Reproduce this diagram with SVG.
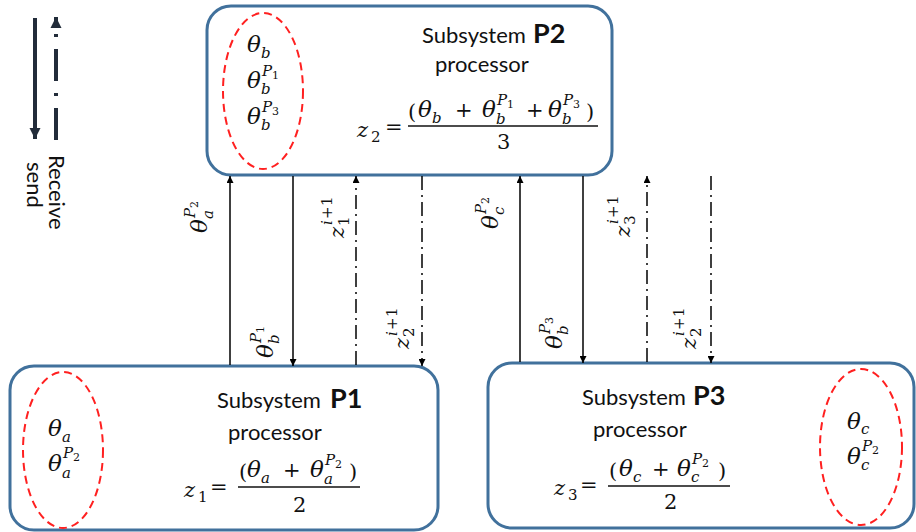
<svg xmlns="http://www.w3.org/2000/svg" width="916" height="532" viewBox="0 0 916 532">
<defs>
<style>
.box{fill:#fff;stroke:#41719c;stroke-width:3}
.ell{fill:none;stroke:#ff2020;stroke-width:2;stroke-dasharray:8 5}
.t{font-family:Lato,"Open Sans",sans-serif;font-size:22px;fill:#111}
.tb{font-weight:bold;font-size:27px}
.m{font-family:"DejaVu Serif",serif;font-style:italic;font-size:21px;fill:#111}
.th{font-size:23px}
.mu{font-style:normal}
.s{font-size:15px}
.ss{font-size:11px}
.c{stroke:#000;stroke-width:1.5;fill:none}
.dd{stroke-dasharray:14 5 2 5}
.fl{stroke:#111;stroke-width:1.3}
</style>
<marker id="ah" viewBox="0 0 10 10" refX="10" refY="5" markerUnits="userSpaceOnUse" markerWidth="9" markerHeight="7" orient="auto"><path d="M0,0 L10,5 L0,10 z" fill="#000"/></marker>
<marker id="big" viewBox="0 0 10 10" refX="10" refY="5" markerUnits="userSpaceOnUse" markerWidth="11" markerHeight="12" orient="auto"><path d="M0,0 L10,5 L0,10 z" fill="#222c3a"/></marker>
</defs>

<g id="legend">
<line x1="35" y1="18" x2="35" y2="139" stroke="#222c3a" stroke-width="4" marker-end="url(#big)"/>
<line x1="56" y1="140" x2="56" y2="17" stroke="#222c3a" stroke-width="4" stroke-dasharray="32 12 3 12" marker-end="url(#big)"/>
<text class="t" transform="translate(49,155) rotate(90)">Receive</text>
<text class="t" transform="translate(27,162) rotate(90)">send</text>
</g>

<g id="P2">
<rect class="box" x="207" y="6" width="405" height="169" rx="24"/>
<ellipse class="ell" cx="263" cy="91" rx="40" ry="78"/>
<text class="t" x="422" y="43">Subsystem<tspan class="tb" x="533">P2</tspan></text>
<text class="t" x="435" y="72">processor</text>
<text class="m"><tspan class="th" x="247" y="52">θ</tspan><tspan class="s" x="261" y="58">b</tspan></text>
<text class="m"><tspan class="th" x="247" y="88">θ</tspan><tspan class="s" x="262" y="76">P</tspan><tspan class="ss mu" x="272" y="79">1</tspan><tspan class="s" x="261" y="94">b</tspan></text>
<text class="m"><tspan class="th" x="247" y="124">θ</tspan><tspan class="s" x="262" y="112">P</tspan><tspan class="ss mu" x="272" y="115">3</tspan><tspan class="s" x="261" y="130">b</tspan></text>
<text class="m"><tspan x="357" y="137">z</tspan><tspan class="s mu" x="371" y="142">2</tspan><tspan class="mu" x="385" y="134">=</tspan></text>
<line class="fl" x1="408" y1="126" x2="598" y2="126"/>
<text class="m"><tspan class="mu" x="408" y="119">(</tspan><tspan class="th" x="418" y="117">θ</tspan><tspan class="s" x="432" y="123">b</tspan><tspan class="mu" x="455" y="117">+</tspan><tspan class="th" x="482" y="117">θ</tspan><tspan class="s" x="497" y="105">P</tspan><tspan class="ss mu" x="507" y="108">1</tspan><tspan class="s" x="496" y="124">b</tspan><tspan class="mu" x="526" y="117">+</tspan><tspan class="th" x="548" y="117">θ</tspan><tspan class="s" x="563" y="105">P</tspan><tspan class="ss mu" x="573" y="108">3</tspan><tspan class="s" x="562" y="124">b</tspan><tspan class="mu" x="586" y="119">)</tspan></text>
<text class="m mu" x="497" y="149">3</text>
</g>

<g id="P1">
<rect class="box" x="10" y="366" width="428" height="164" rx="24"/>
<ellipse class="ell" cx="63" cy="450" rx="40" ry="78"/>
<text class="t" x="217" y="408">Subsystem<tspan class="tb" x="330">P1</tspan></text>
<text class="t" x="228" y="440">processor</text>
<text class="m"><tspan class="th" x="48" y="436">θ</tspan><tspan class="s" x="62" y="442">a</tspan></text>
<text class="m"><tspan class="th" x="48" y="471">θ</tspan><tspan class="s" x="63" y="458">P</tspan><tspan class="ss mu" x="73" y="461">2</tspan><tspan class="s" x="62" y="478">a</tspan></text>
<text class="m"><tspan x="184" y="497">z</tspan><tspan class="s mu" x="198" y="502">1</tspan><tspan class="mu" x="210" y="494">=</tspan></text>
<line class="fl" x1="238" y1="487" x2="360" y2="487"/>
<text class="m"><tspan class="mu" x="239" y="479">(</tspan><tspan class="th" x="247" y="477">θ</tspan><tspan class="s" x="261" y="483">a</tspan><tspan class="mu" x="283" y="477">+</tspan><tspan class="th" x="310" y="477">θ</tspan><tspan class="s" x="325" y="465">P</tspan><tspan class="ss mu" x="335" y="468">2</tspan><tspan class="s" x="324" y="484">a</tspan><tspan class="mu" x="349" y="479">)</tspan></text>
<text class="m mu" x="293" y="512">2</text>
</g>

<g id="P3">
<rect class="box" x="488" y="363" width="426" height="165" rx="24"/>
<ellipse class="ell" cx="861" cy="447" rx="41" ry="78"/>
<text class="t" x="582" y="405">Subsystem<tspan class="tb" x="693">P3</tspan></text>
<text class="t" x="593" y="437">processor</text>
<text class="m"><tspan class="th" x="847" y="429">θ</tspan><tspan class="s" x="861" y="434">c</tspan></text>
<text class="m"><tspan class="th" x="847" y="464">θ</tspan><tspan class="s" x="862" y="451">P</tspan><tspan class="ss mu" x="872" y="454">2</tspan><tspan class="s" x="861" y="470">c</tspan></text>
<text class="m"><tspan x="554" y="495">z</tspan><tspan class="s mu" x="568" y="500">3</tspan><tspan class="mu" x="580" y="492">=</tspan></text>
<line class="fl" x1="608" y1="486" x2="730" y2="486"/>
<text class="m"><tspan class="mu" x="609" y="478">(</tspan><tspan class="th" x="619" y="476">θ</tspan><tspan class="s" x="633" y="482">c</tspan><tspan class="mu" x="652" y="476">+</tspan><tspan class="th" x="677" y="476">θ</tspan><tspan class="s" x="692" y="464">P</tspan><tspan class="ss mu" x="702" y="467">2</tspan><tspan class="s" x="691" y="482">c</tspan><tspan class="mu" x="718" y="478">)</tspan></text>
<text class="m mu" x="664" y="509">2</text>
</g>

<g id="connectors">
<line class="c" x1="230" y1="365" x2="230" y2="176" marker-end="url(#ah)"/>
<line class="c" x1="293" y1="176" x2="293" y2="366" marker-end="url(#ah)"/>
<line class="c dd" x1="356" y1="365" x2="356" y2="176" marker-end="url(#ah)"/>
<line class="c dd" x1="422" y1="176" x2="422" y2="366" marker-end="url(#ah)"/>
<line class="c" x1="520" y1="362" x2="520" y2="176" marker-end="url(#ah)"/>
<line class="c" x1="583" y1="176" x2="583" y2="363" marker-end="url(#ah)"/>
<line class="c dd" x1="647" y1="362" x2="647" y2="176" marker-end="url(#ah)"/>
<line class="c dd" x1="711" y1="176" x2="711" y2="363" marker-end="url(#ah)"/>

<text class="m" transform="translate(207,233) rotate(-90)"><tspan class="th" x="0" y="0">θ</tspan><tspan class="s" x="14" y="6">a</tspan><tspan class="s" x="15" y="-12">P</tspan><tspan class="ss mu" x="25" y="-9">2</tspan></text>
<text class="m" transform="translate(273,358) rotate(-90)"><tspan class="th" x="0" y="0">θ</tspan><tspan class="s" x="14" y="6">b</tspan><tspan class="s" x="15" y="-12">P</tspan><tspan class="ss mu" x="25" y="-9">1</tspan></text>
<text class="m" transform="translate(498,229) rotate(-90)"><tspan class="th" x="0" y="0">θ</tspan><tspan class="s" x="14" y="6">c</tspan><tspan class="s" x="15" y="-12">P</tspan><tspan class="ss mu" x="25" y="-9">2</tspan></text>
<text class="m" transform="translate(562,349) rotate(-90)"><tspan class="th" x="0" y="0">θ</tspan><tspan class="s" x="14" y="6">b</tspan><tspan class="s" x="15" y="-12">P</tspan><tspan class="ss mu" x="25" y="-9">3</tspan></text>

<text class="m" transform="translate(344,238) rotate(-90)"><tspan x="0" y="0">z</tspan><tspan class="s mu" x="12" y="5">1</tspan><tspan class="s" x="13" y="-12">i</tspan><tspan class="s mu" x="19" y="-12">+</tspan><tspan class="s mu" x="32" y="-12">1</tspan></text>
<text class="m" transform="translate(409,349) rotate(-90)"><tspan x="0" y="0">z</tspan><tspan class="s mu" x="12" y="5">2</tspan><tspan class="s" x="13" y="-12">i</tspan><tspan class="s mu" x="19" y="-12">+</tspan><tspan class="s mu" x="32" y="-12">1</tspan></text>
<text class="m" transform="translate(630,237) rotate(-90)"><tspan x="0" y="0">z</tspan><tspan class="s mu" x="12" y="5">3</tspan><tspan class="s" x="13" y="-12">i</tspan><tspan class="s mu" x="19" y="-12">+</tspan><tspan class="s mu" x="32" y="-12">1</tspan></text>
<text class="m" transform="translate(696,349) rotate(-90)"><tspan x="0" y="0">z</tspan><tspan class="s mu" x="12" y="5">2</tspan><tspan class="s" x="13" y="-12">i</tspan><tspan class="s mu" x="19" y="-12">+</tspan><tspan class="s mu" x="32" y="-12">1</tspan></text>
</g>
</svg>
